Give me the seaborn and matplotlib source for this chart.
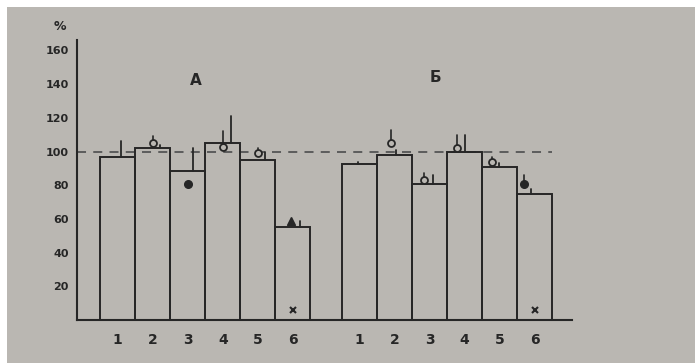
import numpy as np
import pandas as pd
import matplotlib
matplotlib.use("Agg")
import matplotlib.pyplot as plt
from matplotlib.patches import Rectangle
import seaborn as sns

# ---- data ----
group_names = ["A", "Б"]
bar_labels = ["1", "2", "3", "4", "5", "6"]
values_A = [97, 102, 88.5, 105, 95, 55]
values_B = [92.5, 98, 80.5, 100, 91, 75]
# upper end of the error line drawn from the bar top (None = none)
err_A = [106, 104, 102, 121, 100, 59]
err_B = [94, 101, 86, 110, 93, 78]
# marker values and kinds
marker_A = [None, 105, 81, 103, 99, 59]
kind_A = [None, "open", "filled", "open", "open", "tri"]
marker_B = [None, 105, 83, 102, 94, 81]
kind_B = [None, "open", "open", "open", "open", "filled"]
# error above marker
merr_A = [None, 109, None, 112, 102, None]
merr_B = [None, 113, 87, 110, 97, 86]
star_value = 6
reference_level = 100
y_ticks = [20, 40, 60, 80, 100, 120, 140, 160]

# ---- layout constants ----
pos_A = np.arange(6) * 1.0
pos_B = np.arange(6) * 1.0 + 6.9
err_off_A = [0.1, 0.2, 0.15, 0.22, 0.2, 0.2]
err_off_B = [-0.05, 0.05, 0.1, 0.02, 0.0, -0.1]
mk_off_A = [0, 0.0, 0.0, 0.0, 0.0, -0.05]
mk_off_B = [0, -0.1, -0.15, -0.2, -0.2, -0.3]

ink = "#262626"
bg = "#bab7b2"

df = pd.DataFrame({
    "x": np.concatenate([pos_A, pos_B]),
    "value": values_A + values_B,
})

sns.set_style("white")
plt.rcParams["font.family"] = ["DejaVu Sans"]

fig = plt.figure(figsize=(6.95, 3.63), dpi=100, facecolor=bg)
# white paper border at top and left of the photo
fig.patches.append(Rectangle((0, 1 - 7 / 363), 1, 7 / 363, transform=fig.transFigure,
                             facecolor="white", edgecolor="none", zorder=-1))
fig.patches.append(Rectangle((0, 0), 7 / 695, 1, transform=fig.transFigure,
                             facecolor="white", edgecolor="none", zorder=-1))

ax = fig.add_axes([0.111, 0.118, 0.712, 0.771])
ax.set_facecolor(bg)
ax.patch.set_alpha(0)

sns.barplot(data=df, x="x", y="value", native_scale=True, width=1.0,
            fill=False, color=ink, linewidth=1.4, errorbar=None, ax=ax)

def draw_group(pos, vals, errs, eoffs, marks, kinds, moffs, merrs):
    for i in range(6):
        x = pos[i]
        if errs[i] is not None:
            ax.plot([x + eoffs[i]] * 2, [vals[i], errs[i]], color=ink, lw=1.3)
        if marks[i] is not None:
            mx = x + moffs[i]
            if merrs[i] is not None:
                ax.plot([mx, mx], [marks[i], merrs[i]], color=ink, lw=1.2)
            if kinds[i] == "open":
                ax.plot(mx, marks[i], "o", ms=5, mfc=bg, mec=ink, mew=1.3)
            elif kinds[i] == "filled":
                ax.plot(mx, marks[i], "o", ms=5.5, mfc=ink, mec=ink)
            else:
                ax.plot(mx, marks[i], "^", ms=6, mfc=ink, mec=ink)
    ax.plot(pos[5], star_value, "x", ms=4, mew=1.5, color=ink)

draw_group(pos_A, values_A, err_A, err_off_A, marker_A, kind_A, mk_off_A, merr_A)
draw_group(pos_B, values_B, err_B, err_off_B, marker_B, kind_B, mk_off_B, merr_B)

ax.plot([-1.16, pos_B[-1] + 0.5], [reference_level] * 2, ls=(0, (5, 4)),
        color="#555555", lw=1.3, zorder=0)

ax.set_xlim(-1.16, 12.97)
ax.set_ylim(0, 166)
ax.set_xticks(list(pos_A) + list(pos_B))
ax.set_xticklabels(bar_labels + bar_labels, fontsize=10, fontweight="bold", color=ink)
ax.tick_params(axis="x", length=0, pad=9)
ax.set_yticks(y_ticks)
ax.set_yticklabels([str(v) for v in y_ticks], fontsize=8, fontweight="bold", color=ink)
ax.tick_params(axis="y", length=3, width=1.2, color=ink, pad=3, direction="out")
ax.set_xlabel("")
ax.set_ylabel("")

for s in ["top", "right"]:
    ax.spines[s].set_visible(False)
for s in ["left", "bottom"]:
    ax.spines[s].set_color(ink)
    ax.spines[s].set_linewidth(1.5)

ax.text(2.24, 142, group_names[0], fontsize=11, fontweight="bold", color=ink,
        ha="center", va="center")
ax.text(9.07, 144, group_names[1], fontsize=11, fontweight="bold", color=ink,
        ha="center", va="center")
fig.text(60 / 695, 1 - 27 / 363, "%", fontsize=9, fontweight="bold", color=ink,
         ha="center", va="center")

fig.savefig("out.png", dpi=100, facecolor=bg)
